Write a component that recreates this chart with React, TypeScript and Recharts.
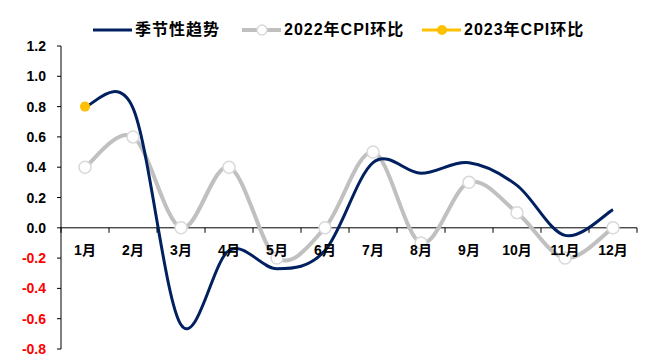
// CPI 环比季节性走势图 — 季节性趋势 vs 2022/2023 年 CPI 环比
import { LineChart, Line, XAxis, YAxis, ReferenceLine, Legend } from 'recharts';

const months = ['1月', '2月', '3月', '4月', '5月', '6月', '7月', '8月', '9月', '10月', '11月', '12月'];
const seasonal = [0.8, 0.79, -0.64, -0.15, -0.27, -0.15, 0.43, 0.36, 0.43, 0.28, -0.05, 0.12];
const cpi2022 = [0.4, 0.6, 0, 0.4, -0.2, 0, 0.5, -0.1, 0.3, 0.1, -0.2, 0];
const cpi2023: (number | null)[] = [0.8, null, null, null, null, null, null, null, null, null, null, null];
const yTicks = [-0.8, -0.6, -0.4, -0.2, 0, 0.2, 0.4, 0.6, 0.8, 1.0, 1.2];

const data = months.map((m, i) => ({
  month: m,
  seasonal: seasonal[i],
  cpi2022: cpi2022[i],
  cpi2023: cpi2023[i],
}));

const W = 650;
const H = 359;
const MARGIN = { top: 46, right: 13, bottom: 9, left: 0 };
const X_AXIS_H = 1;
const Y_AXIS_W = 61;
const Y_MIN = -0.8;
const Y_MAX = 1.2;
const PLOT_H = H - MARGIN.top - MARGIN.bottom - X_AXIS_H;
const PLOT_W = W - MARGIN.right - MARGIN.left - Y_AXIS_W;
const ZERO_Y = MARGIN.top + (PLOT_H * Y_MAX) / (Y_MAX - Y_MIN);
const STEP = PLOT_W / months.length;

const FONT = '"Liberation Sans", Arial, "Noto Sans CJK SC", sans-serif';
const NAVY = '#002060';
const GRAY = '#c0c0c0';
const GOLD = '#ffc000';

// Excel 风格平滑线（Catmull-Rom 转贝塞尔）
const excelSmooth = (context: any) => {
  let xs: number[] = [];
  let ys: number[] = [];
  return {
    areaStart() {},
    areaEnd() {},
    lineStart() {
      xs = [];
      ys = [];
    },
    point(x: number, y: number) {
      xs.push(+x);
      ys.push(+y);
    },
    lineEnd() {
      const n = xs.length;
      if (!n) return;
      context.moveTo(xs[0], ys[0]);
      for (let i = 0; i < n - 1; i++) {
        const p = Math.max(i - 1, 0);
        const q = Math.min(i + 2, n - 1);
        const c1x = xs[i] + (xs[i + 1] - xs[p]) / 6;
        const c1y = ys[i] + (ys[i + 1] - ys[p]) / 6;
        const c2x = xs[i + 1] - (xs[q] - xs[i]) / 6;
        const c2y = ys[i + 1] - (ys[q] - ys[i]) / 6;
        context.bezierCurveTo(c1x, c1y, c2x, c2y, xs[i + 1], ys[i + 1]);
      }
    },
  };
};

function YTick({ x, y, payload }: any) {
  const v = payload.value as number;
  return (
    <text
      x={x}
      y={y}
      dy={5}
      textAnchor="end"
      fontFamily={FONT}
      fontWeight="bold"
      fontSize={14}
      fill={v < 0 ? '#ff0000' : '#000'}
    >
      {v.toFixed(1)}
    </text>
  );
}

// X 轴标签画在 0 轴下方，刻度线在类别之间
function XTick({ x, payload, index }: any) {
  const last = index === months.length - 1;
  return (
    <g>
      <line x1={x - STEP / 2} x2={x - STEP / 2} y1={ZERO_Y} y2={ZERO_Y + 5} stroke="#000" />
      {last && <line x1={x + STEP / 2} x2={x + STEP / 2} y1={ZERO_Y} y2={ZERO_Y + 5} stroke="#000" />}
      <text
        x={x}
        y={ZERO_Y + 27}
        textAnchor="middle"
        fontFamily={FONT}
        fontWeight="bold"
        fontSize={14}
        fill="#000"
      >
        {payload.value}
      </text>
    </g>
  );
}

function LegendIcon({ color, dot }: { color: string; dot?: 'hollow' | 'solid' }) {
  return (
    <svg width={39} height={14} style={{ display: 'block' }}>
      <line x1={0} x2={39} y1={7} y2={7} stroke={color} strokeWidth={dot === 'hollow' ? 4 : 3} />
      {dot === 'hollow' && <circle cx={20} cy={7} r={5} fill="#fff" stroke="#d9d9d9" strokeWidth={1.5} />}
      {dot === 'solid' && <circle cx={20} cy={7} r={5} fill={color} />}
    </svg>
  );
}

const legendItems = [
  { label: '季节性趋势', color: NAVY, left: 93 },
  { label: '2022年CPI环比', color: GRAY, dot: 'hollow' as const, left: 242 },
  { label: '2023年CPI环比', color: GOLD, dot: 'solid' as const, left: 422 },
];

function renderLegend() {
  return (
    <div style={{ position: 'relative', width: W, height: 40 }}>
      {legendItems.map((it) => (
        <div
          key={it.label}
          style={{
            position: 'absolute',
            left: it.left,
            top: 20,
            display: 'flex',
            alignItems: 'center',
            gap: 3,
          }}
        >
          <LegendIcon color={it.color} dot={it.dot} />
          <span
            style={{
              fontFamily: FONT,
              fontWeight: 'bold',
              fontSize: 16,
              letterSpacing: 1,
              color: '#000',
              lineHeight: '20px',
              whiteSpace: 'nowrap',
            }}
          >
            {it.label}
          </span>
        </div>
      ))}
    </div>
  );
}

export default function App() {
  return (
    <div style={{ position: 'absolute', left: 0, top: 0, background: '#fff' }}>
      <LineChart width={W} height={H} data={data} margin={MARGIN}>
        <XAxis
          dataKey="month"
          height={X_AXIS_H}
          padding={{ left: STEP / 2, right: STEP / 2 }}
          axisLine={false}
          tickLine={false}
          interval={0}
          tick={(props: any) => <XTick {...props} />}
        />
        <YAxis
          width={Y_AXIS_W}
          domain={[Y_MIN, Y_MAX]}
          ticks={yTicks}
          allowDataOverflow
          axisLine={{ stroke: '#000' }}
          tickLine={{ stroke: '#000' }}
          tickSize={4}
          tickMargin={11}
          tick={<YTick />}
        />
        <ReferenceLine y={0} stroke="#000" />
        <Legend
          verticalAlign="middle"
          align="center"
          wrapperStyle={{ top: 0, left: 0, width: W }}
          content={renderLegend}
        />
        <Line
          type={excelSmooth as any}
          dataKey="cpi2022"
          stroke={GRAY}
          strokeWidth={4}
          dot={{ r: 6, fill: '#fff', stroke: '#d9d9d9', strokeWidth: 1.5 }}
          isAnimationActive={false}
        />
        <Line
          type={excelSmooth as any}
          dataKey="seasonal"
          stroke={NAVY}
          strokeWidth={3}
          dot={false}
          isAnimationActive={false}
        />
        <Line
          type="linear"
          dataKey="cpi2023"
          stroke={GOLD}
          strokeWidth={3}
          dot={{ r: 5, fill: GOLD, stroke: GOLD, strokeWidth: 0 }}
          isAnimationActive={false}
        />
      </LineChart>
    </div>
  );
}
